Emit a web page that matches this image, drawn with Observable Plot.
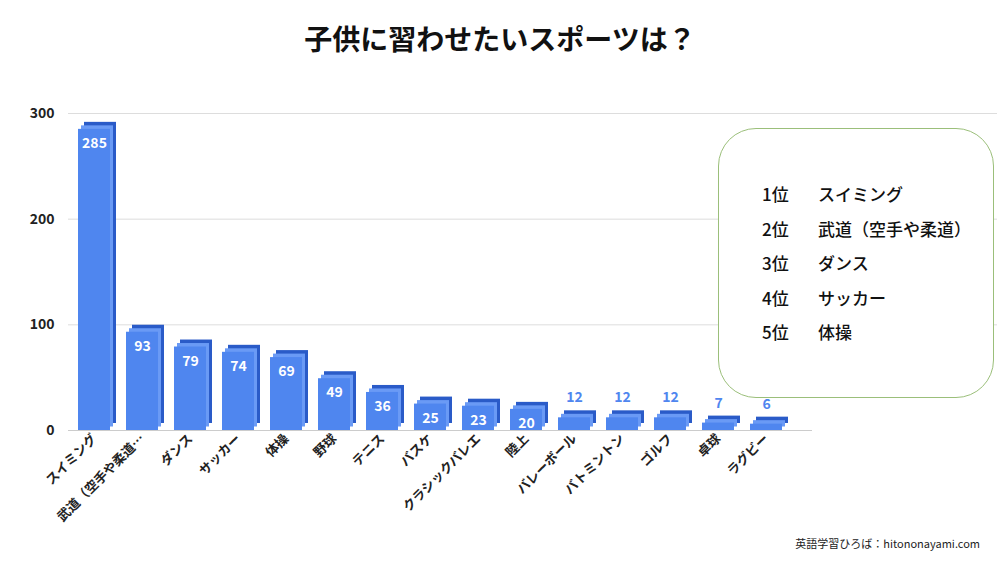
<!DOCTYPE html>
<html><head><meta charset="utf-8">
<script src="https://cdn.jsdelivr.net/npm/d3@7"></script>
<script src="https://cdn.jsdelivr.net/npm/@observablehq/plot@0.6"></script>
<style>
body{margin:0;background:#fff;font-family:"Noto Sans CJK JP",sans-serif;}
#wrap{position:relative;width:1000px;height:563px;}
#title{position:absolute;top:18px;left:0;width:1000px;text-align:center;font-size:28px;font-weight:bold;color:#111;}
#box{position:absolute;left:718px;top:128px;width:276px;height:270px;border:1.5px solid #9bbf7a;border-radius:38px;box-sizing:border-box;background:#fff;padding:48px 0 0 43px;font-size:17px;line-height:34.5px;color:#111;font-weight:500;}
#box span{display:inline-block;width:56px;}
#credit{position:absolute;right:20px;bottom:12px;font-size:11px;color:#222;}
</style></head><body>
<div id="wrap"><div id="chart"></div>
<div id="title">子供に習わせたいスポーツは？</div>
<div id="box"></div>
<div id="credit">英語学習ひろば：hitononayami.com</div></div>
<script>
const sports = ["スイミング","武道（空手や柔道…","ダンス","サッカー","体操","野球","テニス","バスケ","クラシックバレエ","陸上","バレーボール","バトミントン","ゴルフ","卓球","ラグビー"];
const counts = [285,93,79,74,69,49,36,25,23,20,12,12,12,7,6];
const ranks = ["1位","2位","3位","4位","5位"];
const rankNames = ["スイミング","武道（空手や柔道）","ダンス","サッカー","体操"];
const yTicks = [0,100,200,300];

const data = sports.map((s,i)=>({sport:s,count:counts[i]}));
document.getElementById("box").innerHTML = ranks.map((r,i)=>`<div><span>${r}</span>${rankNames[i]}</div>`).join("");

const chart = Plot.plot({
  width:1000, height:563,
  marginTop:113, marginBottom:133, marginLeft:58, marginRight:198,
  style:{fontFamily:"Noto Sans CJK JP, sans-serif", fontWeight:"bold"},
  x:{domain:sports, padding:0.33, label:null, tickSize:0, tickRotate:-45, tickPadding:4, fontSize:13},
  y:{domain:[0,300], ticks:yTicks, label:null, tickSize:0, tickPadding:14},
  marks:[
    Plot.ruleY(yTicks.slice(1),{stroke:"#ddd", insetRight:-195, insetLeft:10}),
    Plot.ruleY([0],{stroke:"#ccc", insetRight:-10, insetLeft:10}),
    Plot.barY(data,{x:"sport",y:"count",fill:"#2a5bc8",dx:6,dy:-7}),
    Plot.barY(data,{x:"sport",y:"count",fill:"#6a9af5",dx:3,dy:-3.5}),
    Plot.barY(data,{x:"sport",y:"count",fill:"#4f86ef"}),
    Plot.text(data.filter(d=>d.count>=20),{x:"sport",y:"count",text:"count",fill:"white",dy:14,fontSize:14,fontWeight:"bold"}),
    Plot.text(data.filter(d=>d.count<20),{x:"sport",y:"count",text:"count",fill:"#4f86ef",dy:-20,fontSize:14,fontWeight:"bold"}),
    Plot.axisY({ticks:yTicks, tickSize:0, tickPadding:4, fontSize:14, fill:"#222"}),
    Plot.axisX({tickRotate:-45, tickSize:0, fontSize:13, fill:"#222", tickPadding:6})
  ]
});
document.getElementById("chart").append(chart);
</script></body></html>
